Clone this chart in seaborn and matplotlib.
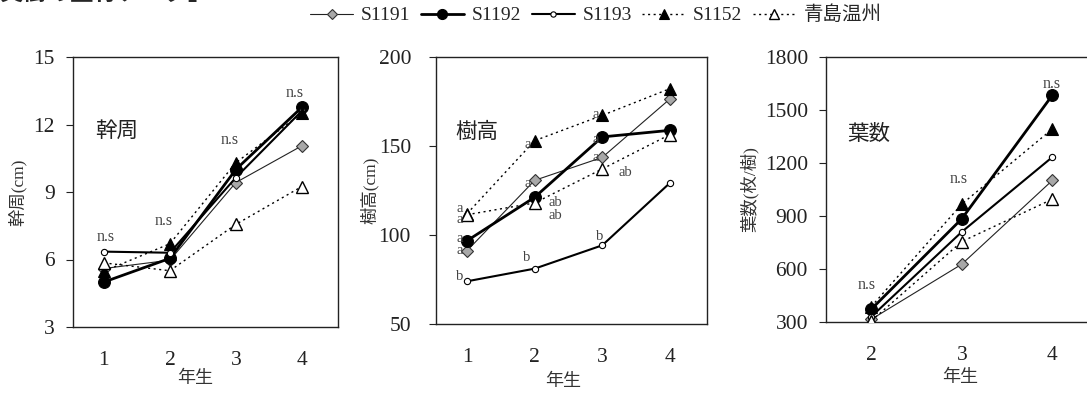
import numpy as np
import pandas as pd
import matplotlib
matplotlib.use("Agg")
import matplotlib.pyplot as plt
from matplotlib.lines import Line2D
import seaborn as sns

# ---------------- data ----------------
series = ["S1191", "S1192", "S1193", "S1152", "青島温州"]

years_a = [1, 2, 3, 4]
years_c = [2, 3, 4]

trunk = {  # 幹周 (cm)
    "S1191": [5.6, 5.97, 9.42, 11.05],
    "S1192": [5.0, 6.05, 10.0, 12.76],
    "S1193": [6.35, 6.3, 9.64, 12.6],
    "S1152": [5.48, 6.7, 10.3, 12.5],
    "青島温州": [5.85, 5.5, 7.56, 9.24],
}
height = {  # 樹高 (cm)
    "S1191": [91.2, 130.7, 143.6, 176.4],
    "S1192": [96.8, 121.2, 155.1, 158.8],
    "S1193": [74.0, 81.1, 94.2, 129.2],
    "S1152": [112.0, 153.0, 167.2, 182.2],
    "青島温州": [111.4, 118.0, 137.1, 156.4],
}
leaves = {  # 葉数 (枚/樹)
    "S1191": [315, 627, 1101],
    "S1192": [372, 884, 1583],
    "S1193": [330, 810, 1233],
    "S1152": [387, 967, 1392],
    "青島温州": [306, 755, 995],
}

ns_trunk = [(1.03, 7.0, "n.s"), (1.9, 7.7, "n.s"), (2.9, 11.3, "n.s"), (3.9, 13.4, "n.s")]
ns_leaves = [(1.95, 510, "n.s"), (2.97, 1108, "n.s"), (3.99, 1647, "n.s")]
letters_height = [
    (0.89, 115.0, "a"), (0.89, 108.8, "a"), (0.89, 98.0, "a"), (0.89, 91.2, "a"), (0.89, 76.8, "b"),
    (1.89, 151.1, "a"), (1.89, 129.2, "a"), (2.30, 118.3, "ab"), (2.30, 111.2, "ab"), (1.88, 87.6, "b"),
    (2.90, 167.6, "a"), (2.90, 153.6, "a"), (2.90, 143.6, "a"), (3.34, 135.2, "ab"), (2.96, 98.9, "b"),
]

# ---------------- style ----------------
sns.set_style("ticks")
plt.rcParams["font.family"] = ["Liberation Serif", "Noto Sans CJK JP"]
plt.rcParams["axes.unicode_minus"] = False

styles = {
    "S1191": dict(color="#222222", lw=0.8, ls="-", marker="D", ms=6.5, mfc="#a8a8a8", mec="#333333", mew=0.8),
    "S1192": dict(color="black", lw=2.0, ls="-", marker="o", ms=8.5, mfc="black", mec="black", mew=0.8),
    "S1193": dict(color="black", lw=1.5, ls="-", marker="o", ms=4.5, mfc="white", mec="black", mew=0.8),
    "S1152": dict(color="black", lw=1.0, ls=(0, (1.5, 2.5)), marker="^", ms=8, mfc="black", mec="black", mew=0.8),
    "青島温州": dict(color="black", lw=1.0, ls=(0, (1.5, 2.5)), marker="^", ms=8, mfc="white", mec="black", mew=1.0),
}

W, H = 1087, 394
fig = plt.figure(figsize=(W / 100, H / 100), dpi=100)

def px_axes(left, top, right, bottom):
    return fig.add_axes([left / W, 1 - bottom / H, (right - left) / W, (bottom - top) / H])

ax1 = px_axes(73, 57, 338, 327)
ax2 = px_axes(436, 57, 707, 324)
ax3 = px_axes(826, 57, 1097.5, 322)

def draw(ax, xs, data):
    for s in series:
        df = pd.DataFrame({"x": xs, "y": data[s]})
        st = styles[s]
        sns.lineplot(data=df, x="x", y="y", ax=ax, color=st["color"], linewidth=st["lw"],
                     linestyle=st["ls"], marker=st["marker"], markersize=st["ms"],
                     markerfacecolor=st["mfc"], markeredgecolor=st["mec"],
                     markeredgewidth=st["mew"], sort=False, legend=False, zorder=3)

draw(ax1, years_a, trunk)
draw(ax2, years_a, height)
draw(ax3, years_c, leaves)

ax1.set_xlim(0.53, 4.55); ax1.set_ylim(3, 15)
ax1.set_xticks(years_a); ax1.set_yticks([3, 6, 9, 12, 15])
ax2.set_xlim(0.54, 4.55); ax2.set_ylim(50, 200)
ax2.set_xticks(years_a); ax2.set_yticks([50, 100, 150, 200])
ax3.set_xlim(1.5, 4.5); ax3.set_ylim(300, 1800)
ax3.set_xticks(years_c); ax3.set_yticks([300, 600, 900, 1200, 1500, 1800])

ylabels = ["幹周(cm)", "樹高(cm)", "葉数(枚/樹)"]
titles = ["幹周", "樹高", "葉数"]
ylab_x = [-0.21, -0.244, -0.28]
xlab_pos = [(0.46, -0.19), (0.469, -0.217), (0.494, -0.208)]
title_pos = [(0.083, 0.722), (0.07, 0.715), (0.077, 0.706)]
ypads = [8, 13, 8]

for ax, yl, t, yx, xp, tp, yp in zip([ax1, ax2, ax3], ylabels, titles, ylab_x, xlab_pos, title_pos, ypads):
    for sp in ax.spines.values():
        sp.set_color("#222222")
        sp.set_linewidth(1.0)
    ax.tick_params(axis="x", length=0, pad=17, labelsize=15.5, colors="#222222")
    ax.tick_params(axis="y", length=5, width=0.8, direction="out", pad=yp, labelsize=15.5, colors="#222222")
    ax.set_ylabel(yl, fontsize=12.5, color="#333333")
    ax.yaxis.set_label_coords(yx, 0.5)
    ax.yaxis.label.set_va("center")
    ax.set_xlabel("年生", fontsize=13, color="#333333")
    ax.xaxis.set_label_coords(*xp)
    ax.xaxis.label.set_va("center")
    ax.text(tp[0], tp[1], t, transform=ax.transAxes, fontsize=15.5, va="center", ha="left",
            color="#222222")

for x, y, s in ns_trunk:
    ax1.text(x, y, s, fontsize=11.5, color="#444444", ha="center", va="center")
for x, y, s in ns_leaves:
    ax3.text(x, y, s, fontsize=11.5, color="#444444", ha="center", va="center")
for x, y, s in letters_height:
    ax2.text(x, y, s, fontsize=10.5, color="#444444", ha="center", va="center")

# legend
handles = []
for s in series:
    st = styles[s]
    handles.append(Line2D([0], [0], color=st["color"], lw=st["lw"], ls=st["ls"], marker=st["marker"],
                          ms=st["ms"] * 0.85, mfc=st["mfc"], mec=st["mec"], mew=st["mew"]))
fig.legend(handles, series, loc="center", bbox_to_anchor=(596 / W, 1 - 15 / H), ncol=5,
           frameon=False, fontsize=14, handlelength=2.2, handletextpad=0.4, columnspacing=0.55,
           borderpad=0)

# partially clipped heading at the top-left (only its lower edge shows)
fig.text(0.0, 1 + 0.5 / H, "実樹の生育データ」", fontsize=17, fontweight="bold", ha="left", va="baseline",
         family=["Noto Sans CJK JP"])

fig.savefig("out.png", dpi=100)
